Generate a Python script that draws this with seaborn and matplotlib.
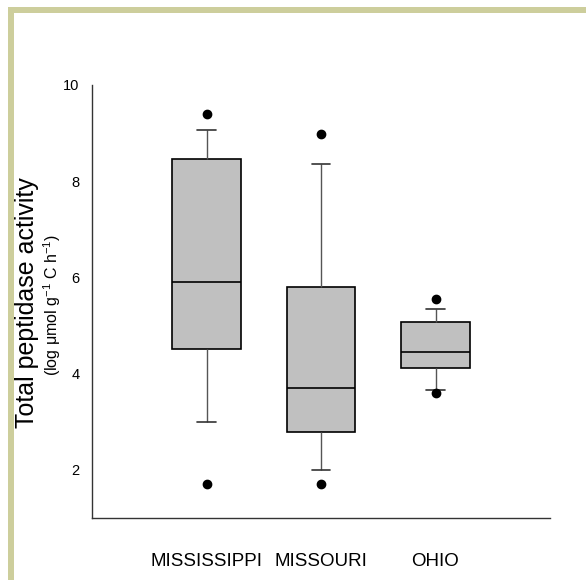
import pandas as pd
import seaborn as sns
import matplotlib.pyplot as plt
from matplotlib.patches import Rectangle

# summary values (log umol g-1 C h-1)
regions = ['MISSISSIPPI', 'MISSOURI', 'OHIO']
low_outlier = [1.70, 1.70, 3.60]
low_whisker = [3.00, 1.99, 3.66]
q1 = [4.51, 2.79, 4.12]
median = [5.91, 3.71, 4.44]
q3 = [8.46, 5.81, 5.08]
high_whisker = [9.07, 8.36, 5.35]
high_outlier = [9.40, 8.98, 5.56]

# 9 points per region: quartiles land exactly on q1/median/q3,
# 12.5/87.5 percentiles land on the whisker ends
rows = []
for i, r in enumerate(regions):
    vals = [low_outlier[i], low_whisker[i], q1[i], q1[i], median[i],
            q3[i], q3[i], high_whisker[i], high_outlier[i]]
    for v in vals:
        rows.append({'region': r, 'activity': v})
df = pd.DataFrame(rows)

sns.set_style('white')
plt.rcParams['font.family'] = ['Liberation Sans', 'DejaVu Sans']
plt.rcParams['mathtext.fontset'] = 'custom'
plt.rcParams['mathtext.rm'] = 'Liberation Sans'
plt.rcParams['text.color'] = 'black'
plt.rcParams['xtick.color'] = 'black'
plt.rcParams['ytick.color'] = 'black'

fig = plt.figure(figsize=(5.86, 5.80), dpi=100)
ax = fig.add_axes([92/586, 1-518/580, (550-92)/586, (518-85)/580])

sns.boxplot(data=df, x='region', y='activity', order=regions, ax=ax,
            whis=(12.5, 87.5), width=0.6, color='#c0c0c0', capwidths=0.16,
            boxprops=dict(facecolor='#c0c0c0', edgecolor='black', linewidth=1.2),
            medianprops=dict(color='black', linewidth=1.2),
            whiskerprops=dict(color='#555555', linewidth=1.0),
            capprops=dict(color='#333333', linewidth=1.2),
            flierprops=dict(marker='o', markerfacecolor='black',
                            markeredgecolor='black', markersize=6))

ax.set_xlim(-1, 3)
ax.set_ylim(1, 10)
ax.set_yticks([2, 4, 6, 8, 10])
ax.set_xlabel('')
ax.set_ylabel('')
for s in ['top', 'right']:
    ax.spines[s].set_visible(False)
for s in ['left', 'bottom']:
    ax.spines[s].set_color('#333333')
    ax.spines[s].set_linewidth(1.0)
ax.tick_params(axis='y', direction='out', length=6, width=1, color='#333333',
               labelcolor='black', labelsize=10.5, pad=3)
ax.tick_params(axis='x', direction='out', length=6, width=1, color='#333333',
               labelcolor='black', labelsize=13.5, pad=19)
ax.spines['left'].set_bounds(1, 10)

fig.text(27/586, 1-303/580, 'Total peptidase activity', rotation=90,
         ha='center', va='center', fontsize=18, color='black')
fig.text(52/586, 1-305/580,
         r'(log $\mathregular{\mu}$mol g$^{\mathregular{-1}}$ C h$^{\mathregular{-1}}$)',
         rotation=90, ha='center', va='center', fontsize=11.5, color='black')

# tan frame on the top and left edge
fig.patches.append(Rectangle((8/586, 0), 6/586, 1-7/580, transform=fig.transFigure,
                             facecolor='#cdce9c', edgecolor='none'))
fig.patches.append(Rectangle((8/586, 1-13/580), 1, 6/580, transform=fig.transFigure,
                             facecolor='#cdce9c', edgecolor='none'))

fig.savefig('out.png', dpi=100)
